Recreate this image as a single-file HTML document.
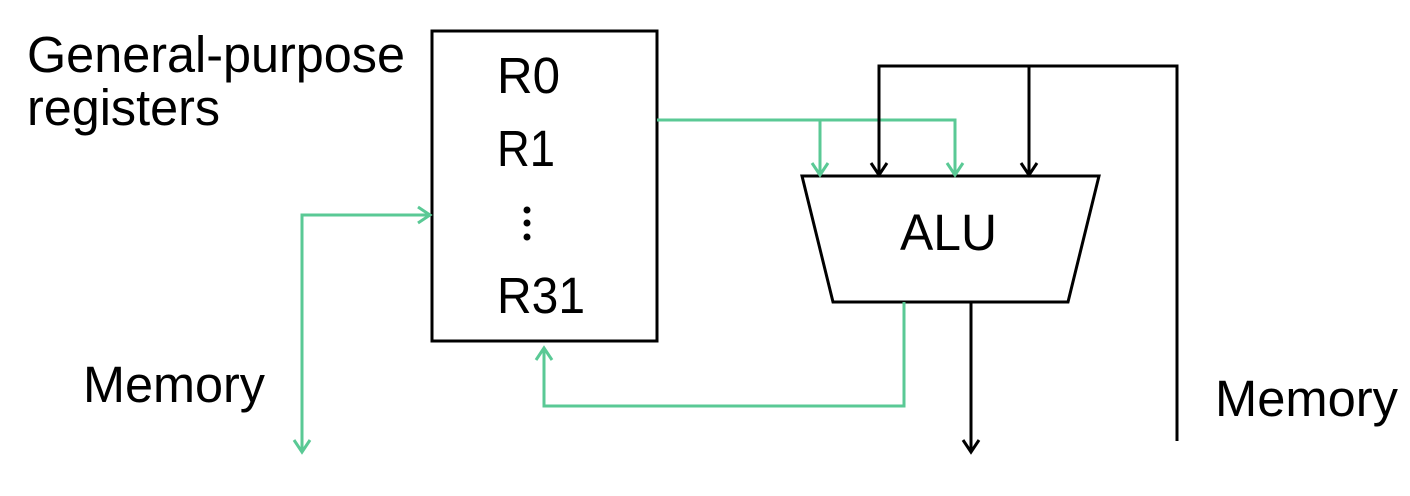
<!DOCTYPE html>
<html><head><style>
html,body{margin:0;padding:0;background:#fff;}
svg{display:block;}
text{font-family:"Liberation Sans",Arial,sans-serif;fill:#000;}
</style></head><body>
<svg width="1410" height="496" viewBox="0 0 1410 496" xmlns="http://www.w3.org/2000/svg">
<g font-size="51">
<text x="27" y="72" textLength="378" lengthAdjust="spacingAndGlyphs">General-purpose</text>
<text x="27" y="125" textLength="193" lengthAdjust="spacingAndGlyphs">registers</text>
<text x="497" y="93" textLength="63" lengthAdjust="spacingAndGlyphs">R0</text>
<text x="497" y="166" textLength="58" lengthAdjust="spacingAndGlyphs">R1</text>
<text x="497" y="313" textLength="88" lengthAdjust="spacingAndGlyphs">R31</text>
<text x="900" y="250" textLength="97" lengthAdjust="spacingAndGlyphs">ALU</text>
<text x="83" y="402" textLength="182" lengthAdjust="spacingAndGlyphs">Memory</text>
<text x="1215" y="416" textLength="183" lengthAdjust="spacingAndGlyphs">Memory</text>
</g>
<circle cx="527" cy="210" r="3.5"/><circle cx="527" cy="223" r="3.5"/><circle cx="527" cy="237" r="3.5"/>
<rect x="432" y="31" width="225" height="310" fill="none" stroke="#000" stroke-width="3"/>
<polygon points="802,176 1099,176 1068,302 833,302" fill="none" stroke="#000" stroke-width="3"/>
<g fill="none" stroke="#5ac995" stroke-width="3">
<polyline points="657,120 955,120 955,175"/>
<line x1="820" y1="120" x2="820" y2="175"/>
<polyline points="812,163 820,175 828,163"/>
<polyline points="947,163 955,175 963,163"/>
<polyline points="904,302 904,406 544,406 544,348"/>
<polyline points="536,360 544,348 552,360"/>
<polyline points="302,452 302,215 430,215"/>
<polyline points="418,207 430,215 418,223"/>
<polyline points="294,440 302,452 310,440"/>
</g>
<g fill="none" stroke="#000" stroke-width="3">
<polyline points="879,175 879,66 1177,66 1177,441"/>
<line x1="1029" y1="66" x2="1029" y2="175"/>
<polyline points="871,163 879,175 887,163"/>
<polyline points="1021,163 1029,175 1037,163"/>
<line x1="971" y1="302" x2="971" y2="452"/>
<polyline points="963,440 971,452 979,440"/>
</g>
</svg>
</body></html>
